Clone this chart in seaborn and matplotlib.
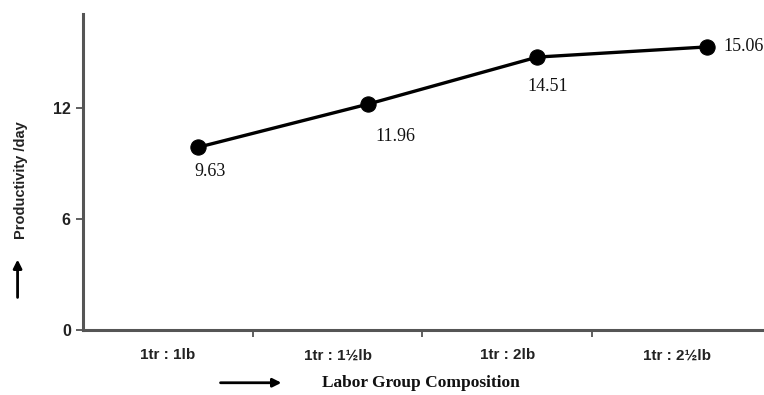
import matplotlib
matplotlib.use("Agg")
import matplotlib.pyplot as plt
import matplotlib.transforms as mtransforms
import seaborn as sns
import pandas as pd

categories = ["1tr : 1lb", "1tr : 1½lb", "1tr : 2lb", "1tr : 2½lb"]
productivity = [9.63, 11.96, 14.51, 15.06]
y_ticks = [0, 6, 12]

df = pd.DataFrame({"comp": categories, "prod": productivity})

sns.set_theme(style="white")
plt.rcParams["font.family"] = ["Liberation Sans", "DejaVu Sans"]

fig = plt.figure(figsize=(7.64, 3.95), dpi=100)
ax = fig.add_axes([0.109, 0.164, 0.888, 0.800])

sns.lineplot(data=df, x="comp", y="prod", ax=ax, color="black", linewidth=2.4,
             marker="o", markersize=11, markeredgecolor="black", markerfacecolor="black",
             sort=False)

# shift the drawn series slightly (scanned figure look)
offset = mtransforms.ScaledTranslation(30 / 100, 5 / 100, fig.dpi_scale_trans)
for ln in ax.lines:
    ln.set_transform(ax.transData + offset)

# value labels (offsets in pixels from the point)
label_offsets = [(-4, -24, "left"), (28, -32, "center"), (10, -29, "center"), (17, 0, "left")]
for i, (v, (dx, dy, ha)) in enumerate(zip(productivity, label_offsets)):
    ax.annotate(f"{v:.2f}", xy=(i, v), xytext=((dx + 30) * 0.72, (dy + 5) * 0.72),
                textcoords="offset points", ha=ha, va="center",
                fontsize=13, family="Liberation Serif", color="#111")

ax.set_xlim(-0.5, 3.5)
ax.set_ylim(0, 17.1)
ax.set_yticks(y_ticks)
ax.set_yticklabels([str(t) for t in y_ticks], fontsize=11.5, fontweight="bold", color="#222")
ax.set_xticks(range(len(categories)))
ax.set_xticklabels(categories, fontsize=11, fontweight="bold", color="#222")
ax.set_xticks([0.5, 1.5, 2.5], minor=True)
ax.tick_params(axis="x", which="major", length=0, pad=13)
ax.tick_params(axis="x", which="minor", length=5, width=1.2, color="#444", direction="out", bottom=True)
ax.tick_params(axis="y", which="major", length=5, width=1.2, color="#444", direction="out", left=True, pad=4)

for s in ["top", "right"]:
    ax.spines[s].set_visible(False)
for s in ["left", "bottom"]:
    ax.spines[s].set_color("#555")
    ax.spines[s].set_linewidth(2.2)

ax.set_xlabel("")
ax.set_ylabel("")

# axis titles with arrows
fig.text(0.551, 0.031, "Labor Group Composition", ha="center", va="center",
         fontsize=12.5, fontweight="bold", family="Liberation Serif", color="#111")
fig.text(0.028, 0.545, "Productivity /day", ha="center", va="center", rotation=90,
         fontsize=10.5, fontweight="bold", color="#222")
fig.add_artist(matplotlib.patches.FancyArrowPatch((0.285, 0.031), (0.372, 0.031),
               transform=fig.transFigure, arrowstyle="-|>,head_length=5,head_width=2.5",
               color="black", linewidth=2))
fig.add_artist(matplotlib.patches.FancyArrowPatch((0.023, 0.24), (0.023, 0.35),
               transform=fig.transFigure, arrowstyle="-|>,head_length=5,head_width=2.5",
               color="black", linewidth=2))

fig.savefig("out.png", dpi=100)
